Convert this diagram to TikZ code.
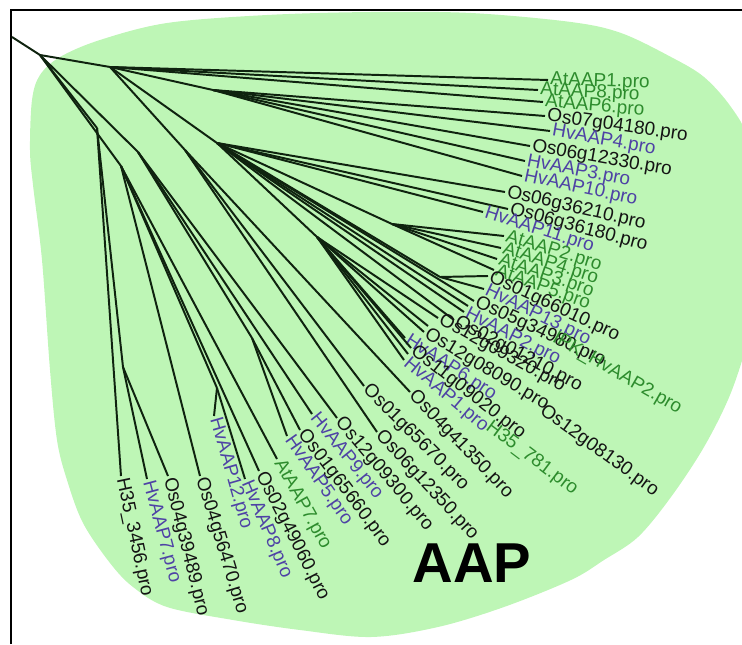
\documentclass[tikz,border=0pt]{standalone}
\usepackage{fontspec}
\setmainfont{Liberation Sans}
\definecolor{blobgreen}{RGB}{190,246,182}
\definecolor{leafgreen}{RGB}{45,140,45}
\definecolor{leafblue}{RGB}{78,66,165}
\definecolor{leafblack}{RGB}{20,20,20}
\definecolor{branchcol}{RGB}{15,35,15}
\tikzset{
  branch/.style={draw=branchcol, line width=1.4pt},
  leaf/.style={anchor=west, inner sep=1.5pt, font=\fontsize{13.5}{15}\selectfont},
  gleaf/.style={text=leafgreen},
  bleaf/.style={text=leafblue},
  kleaf/.style={text=leafblack}
}

\begin{document}
\begin{tikzpicture}[x=0.025cm, y=-0.025cm]
		\useasboundingbox (0,0) rectangle (742,644);
		% green background of the clade
		\fill[blobgreen] plot[smooth cycle, tension=0.55] coordinates {
			(30,150) (32,100) (40,75) (60,57) (100,40) (167,23) (267,15) (371,12)
			(471,13) (571,22) (621,33) (671,57) (704,77) (731,107) (748,140) (758,210)
			(758,290) (748,340) (730,395) (704,447) (671,497) (638,537) (604,560) (571,580)
			(504,607) (438,627) (371,637) (300,630) (233,620) (167,607) (133,587) (110,563)
			(83,523) (67,480) (57,440) (50,370) (42,260) (33,185)};
		% frame
		\draw[line width=1.5pt] (11,644) -- (11,10) -- (742,10);
		
		% inner nodes of the tree
		\coordinate (S) at (12,37);
		\coordinate (R) at (40,55);
		\coordinate (A) at (110,67);
		\coordinate (B) at (213,90);
		\coordinate (C) at (217,143);
		\coordinate (Cq) at (392,224);
		\coordinate (Dq) at (440,277);
		\coordinate (D) at (317,237);
		\coordinate (G) at (185,150);
		\coordinate (E) at (97,128);
		\coordinate (F) at (121,166);
		\coordinate (H) at (138,152);
		\coordinate (N1) at (123,367);
		\coordinate (N2) at (217,388);
		\coordinate (N3) at (252,338);
		
		\draw[branch] (S) -- (R);
		\draw[branch] (R) -- (A);
		\draw[branch] (A) -- (B);
		\draw[branch] (A) -- (C);
		\draw[branch] (A) -- (G);
		\draw[branch] (C) -- (Cq);
		\draw[branch] (C) -- (Dq);
		\draw[branch] (C) -- (D);
		\draw[branch] (R) -- (E);
		\draw[branch] (R) -- (F);
		\draw[branch] (R) -- (H);
		\draw[branch] (E) -- (N1);
		\draw[branch] (F) -- (N2);
		\draw[branch] (H) -- (N3);
		
		% leaves: name/x/y/angle/colour/label/parent
		\foreach \nm/\x/\y/\ang/\st/\txt/\up in {
			AtAAPa/548/80/2/gleaf/AtAAP1.pro/A,
			AtAAPh/538/90/3/gleaf/AtAAP8.pro/A,
			AtAAPf/543/102/5/gleaf/AtAAP6.pro/A,
			Osa/545/116/8/kleaf/Os07g04180.pro/B,
			HvAAPd/550/131/10/bleaf/HvAAP4.pro/B,
			Osb/530/146/10/kleaf/Os06g12330.pro/B,
			HvAAPc/525/161/11/bleaf/HvAAP3.pro/B,
			HvAAPj/522/176/12/bleaf/HvAAP10.pro/B,
			Osc/505/192/13/kleaf/Os06g36210.pro/C,
			Osd/508/209/15/kleaf/Os06g36180.pro/C,
			HvAAPk/483/212/18/bleaf/HvAAP11.pro/C,
			AtAAPb/504/236/17/gleaf/AtAAP2.pro/Cq,
			AtAAPd/501/248/18/gleaf/AtAAP4.pro/Cq,
			AtAAPc/497/259/19/gleaf/AtAAP3.pro/Cq,
			AtAAPe/494/270/20/gleaf/AtAAP5.pro/Cq,
			Ose/488/276/25/kleaf/Os01g66010.pro/Dq,
			HvAAPm/484/289/26/bleaf/HvAAP13.pro/Dq,
			Osf/474/301/25/kleaf/Os05g34980.pro/C,
			HvAAPb/464/312/27/bleaf/HvAAP2.pro/C,
			Osg/454/320/28/kleaf/Os02g01210.pro/C,
			Osh/438/318/29/kleaf/Os12g09320.pro/D,
			Osi/424/332/31/kleaf/Os12g08090.pro/D,
			HvAAPf/405/338/33/bleaf/HvAAP6.pro/D,
			Osj/411/348/38/kleaf/Os11g09020.pro/D,
			HvAAPa/404/360/40/bleaf/HvAAP1.pro/D,
			Osk/410/392/46/kleaf/Os04g41350.pro/G,
			Osl/364/386/45/kleaf/Os01g65670.pro/G,
			Osm/377/432/47/kleaf/Os06g12350.pro/G,
			Osn/337/418/50/kleaf/Os12g09300.pro/H,
			HvAAPi/312/414/51/bleaf/HvAAP9.pro/H,
			Oso/300/430/53/kleaf/Os01g65660.pro/N3,
			HvAAPe/287/436/55/bleaf/HvAAP5.pro/N3,
			AtAAPg/277/459/61/gleaf/AtAAP7.pro/F,
			Osp/259/471/63/kleaf/Os02g49060.pro/F,
			HvAAPh/245/479/67/bleaf/HvAAP8.pro/N2,
			HvAAPl/214/416/74/bleaf/HvAAP12.pro/N2,
			Osq/200/476/73/kleaf/Os04g56470.pro/F,
			Osr/168/476/76/kleaf/Os04g39489.pro/N1,
			HvAAPg/147/479/75/bleaf/HvAAP7.pro/N1,
			Hsa/121/476/78/kleaf/H35\_3456.pro/E}{
			\coordinate (\nm) at (\x,\y);
			\draw[branch] (\up) -- (\nm);
			\node[leaf, \st, rotate=-\ang] (\nm-l) at (\nm) {\txt};
		}
		
		% leaves whose labels sit away from their tips
		\coordinate (IPK) at (468,306);
		\coordinate (Oss) at (428,326);
		\coordinate (Hsb) at (408,354);
		\draw[branch] (C) -- (IPK);
		\draw[branch] (D) -- (Oss);
		\draw[branch] (D) -- (Hsb);
		\node[leaf, gleaf, rotate=-30] (IPK-l) at (552,336) {IPK\_HvAAP2.pro};
		\node[leaf, kleaf, rotate=-36] (Oss-l) at (540,408) {Os12g08130.pro};
		\node[leaf, gleaf, rotate=-37] (Hsb-l) at (486,424) {H35\_781.pro};
		
		\node[font=\fontsize{40}{40}\selectfont\bfseries] (AAP) at (472,563) {AAP};
\end{tikzpicture}
\end{document}
